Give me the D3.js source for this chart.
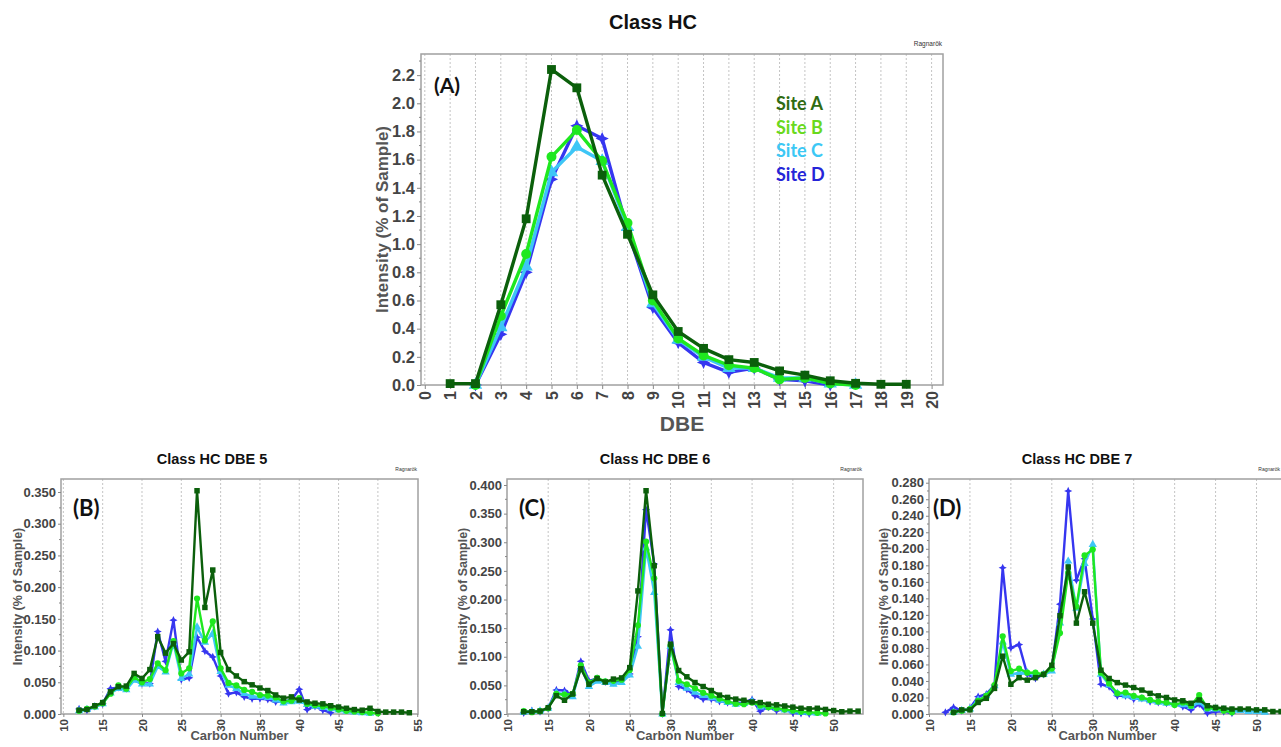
<!DOCTYPE html>
<html>
<head>
<meta charset="utf-8">
<script src="https://cdn.jsdelivr.net/npm/d3@7"></script>
<style>
	body { margin: 0; background: #fff; }
	svg text { font-family: "Liberation Sans", Arial, sans-serif; font-weight: bold; }
	.tag { font-family: Lato, "Open Sans", sans-serif !important; }
</style>
</head>
<body>
<svg id="fig" width="1281" height="747"></svg>
<script>
// panel A : intensity per DBE
const dbe = [1, 2, 3, 4, 5, 6, 7, 8, 9, 10, 11, 12, 13, 14, 15, 16, 17, 18, 19];
const dbeSiteA = [0.01, 0.01, 0.57, 1.18, 2.24, 2.11, 1.49, 1.07, 0.64, 0.38, 0.26, 0.18, 0.16, 0.10, 0.07, 0.03, 0.012, 0.005, 0.005];
const dbeSiteB = [null, 0.0, 0.49, 0.93, 1.62, 1.81, 1.59, 1.15, 0.60, 0.33, 0.21, 0.14, 0.12, 0.04, 0.05, 0.01, 0.0];
const dbeSiteC = [null, 0.0, 0.41, 0.84, 1.51, 1.69, 1.59, 1.12, 0.58, 0.32, 0.20, 0.12, 0.12, 0.05, 0.05, 0.01, 0.0];
const dbeSiteD = [null, 0.0, 0.36, 0.80, 1.46, 1.84, 1.75, 1.10, 0.55, 0.30, 0.16, 0.09, 0.12, 0.04, 0.03, 0.0];
const dbeTicks = [0, 1, 2, 3, 4, 5, 6, 7, 8, 9, 10, 11, 12, 13, 14, 15, 16, 17, 18, 19, 20];
const dbeYTicks = [0, 0.2, 0.4, 0.6, 0.8, 1.0, 1.2, 1.4, 1.6, 1.8, 2.0, 2.2];

// panel B : DBE 5 per carbon number
const carbonDbe5 = [12, 13, 14, 15, 16, 17, 18, 19, 20, 21, 22, 23, 24, 25, 26, 27, 28, 29, 30, 31, 32, 33, 34, 35, 36, 37, 38, 39, 40, 41, 42, 43, 44, 45, 46, 47, 48, 49, 50, 51, 52, 53, 54];
const dbe5SiteA = [0.006, 0.007, 0.013, 0.018, 0.035, 0.043, 0.044, 0.064, 0.056, 0.070, 0.122, 0.096, 0.111, 0.085, 0.098, 0.352, 0.168, 0.227, 0.097, 0.070, 0.060, 0.051, 0.046, 0.041, 0.037, 0.030, 0.025, 0.027, 0.022, 0.019, 0.017, 0.016, 0.013, 0.011, 0.009, 0.007, 0.006, 0.009, 0.004, 0.003, 0.003, 0.003, 0.002];
const dbe5SiteB = [0.005, 0.008, 0.012, 0.017, 0.032, 0.045, 0.040, 0.058, 0.050, 0.055, 0.080, 0.069, 0.115, 0.064, 0.072, 0.182, 0.116, 0.146, 0.072, 0.049, 0.045, 0.038, 0.035, 0.030, 0.029, 0.026, 0.020, 0.021, 0.025, 0.016, 0.014, 0.012, 0.010, 0.007, 0.005, 0.004, 0.003, 0.002, 0.001];
const dbe5SiteC = [0.005, 0.007, 0.011, 0.016, 0.033, 0.040, 0.038, 0.053, 0.047, 0.047, 0.075, 0.066, 0.112, 0.056, 0.063, 0.137, 0.113, 0.127, 0.067, 0.045, 0.040, 0.032, 0.028, 0.027, 0.026, 0.022, 0.017, 0.019, 0.020, 0.015, 0.012, 0.010, 0.008, 0.006, 0.004, 0.003, 0.002, 0.001];
const dbe5SiteD = [0.008, 0.006, 0.012, 0.016, 0.040, 0.042, 0.040, 0.057, 0.048, 0.048, 0.130, 0.083, 0.148, 0.054, 0.057, 0.121, 0.099, 0.090, 0.060, 0.032, 0.034, 0.027, 0.024, 0.024, 0.023, 0.019, 0.020, 0.022, 0.039, 0.007, 0.012, 0.006, 0.002];

// panel C : DBE 6 per carbon number
const carbonDbe6 = [12, 13, 14, 15, 16, 17, 18, 19, 20, 21, 22, 23, 24, 25, 26, 27, 28, 29, 30, 31, 32, 33, 34, 35, 36, 37, 38, 39, 40, 41, 42, 43, 44, 45, 46, 47, 48, 49, 50, 51, 52, 53];
const dbe6SiteA = [0.004, 0.004, 0.005, 0.011, 0.032, 0.024, 0.035, 0.079, 0.052, 0.062, 0.056, 0.061, 0.063, 0.081, 0.215, 0.390, 0.259, 0.001, 0.122, 0.076, 0.065, 0.055, 0.048, 0.041, 0.033, 0.029, 0.026, 0.024, 0.021, 0.020, 0.017, 0.016, 0.014, 0.012, 0.010, 0.009, 0.010, 0.008, 0.006, 0.004, 0.005, 0.005];
const dbe6SiteB = [0.005, 0.003, 0.005, 0.010, 0.035, 0.034, 0.035, 0.085, 0.055, 0.063, 0.057, 0.058, 0.060, 0.077, 0.155, 0.301, 0.237, 0.000, 0.120, 0.058, 0.052, 0.045, 0.037, 0.032, 0.027, 0.022, 0.018, 0.017, 0.020, 0.015, 0.012, 0.010, 0.008, 0.006, 0.004, 0.003, 0.002, 0.001];
const dbe6SiteC = [0.003, 0.004, 0.005, 0.010, 0.037, 0.035, 0.030, 0.082, 0.048, 0.057, 0.055, 0.052, 0.055, 0.068, 0.118, 0.290, 0.212, 0.000, 0.118, 0.055, 0.045, 0.038, 0.032, 0.028, 0.024, 0.020, 0.017, 0.018, 0.022, 0.012, 0.012, 0.010, 0.007, 0.005, 0.003, 0.002, 0.001];
const dbe6SiteD = [0.002, 0.006, 0.004, 0.010, 0.042, 0.041, 0.033, 0.092, 0.058, 0.062, 0.056, 0.055, 0.058, 0.070, 0.135, 0.357, 0.262, 0.000, 0.147, 0.048, 0.043, 0.032, 0.026, 0.026, 0.022, 0.020, 0.019, 0.020, 0.025, 0.005, 0.012, 0.006, 0.008, 0.002, 0.001, 0.000];

// panel D : DBE 7 per carbon number
const carbonDbe7 = [12, 13, 14, 15, 16, 17, 18, 19, 20, 21, 22, 23, 24, 25, 26, 27, 28, 29, 30, 31, 32, 33, 34, 35, 36, 37, 38, 39, 40, 41, 42, 43, 44, 45, 46, 47, 48, 49, 50, 51, 52, 53];
const dbe7SiteA = [null, 0.002, 0.005, 0.005, 0.014, 0.019, 0.031, 0.070, 0.036, 0.044, 0.041, 0.044, 0.048, 0.059, 0.119, 0.178, 0.110, 0.148, 0.110, 0.053, 0.043, 0.038, 0.035, 0.032, 0.029, 0.025, 0.022, 0.020, 0.017, 0.016, 0.013, 0.017, 0.010, 0.008, 0.007, 0.006, 0.006, 0.006, 0.005, 0.005, 0.003, 0.003];
const dbe7SiteB = [null, 0.002, 0.004, 0.006, 0.016, 0.022, 0.035, 0.094, 0.052, 0.055, 0.050, 0.050, 0.048, 0.055, 0.098, 0.171, 0.130, 0.192, 0.199, 0.050, 0.037, 0.025, 0.026, 0.022, 0.020, 0.017, 0.015, 0.014, 0.011, 0.014, 0.010, 0.023, 0.007, 0.007, 0.004, 0.002];
const dbe7SiteC = [null, 0.002, 0.004, 0.006, 0.017, 0.022, 0.034, 0.087, 0.048, 0.050, 0.050, 0.048, 0.048, 0.052, 0.110, 0.185, 0.128, 0.182, 0.205, 0.048, 0.035, 0.025, 0.022, 0.020, 0.018, 0.016, 0.014, 0.013, 0.012, 0.011, 0.009, 0.014, 0.006, 0.006, 0.005, 0.004, 0.004, 0.003, 0.003, 0.002];
const dbe7SiteD = [0.002, 0.008, 0.004, 0.007, 0.021, 0.024, 0.035, 0.177, 0.080, 0.084, 0.048, 0.043, 0.048, 0.055, 0.133, 0.270, 0.162, 0.188, 0.115, 0.036, 0.033, 0.022, 0.022, 0.018, 0.019, 0.015, 0.014, 0.013, 0.012, 0.009, 0.005, 0.012, 0.001, 0.003, 0.003, 0.001];

const carbonTicks = [10, 15, 20, 25, 30, 35, 40, 45, 50, 55];
const yTicks05 = [0, 0.05, 0.10, 0.15, 0.20, 0.25, 0.30, 0.35];
const yTicks06 = [0, 0.05, 0.10, 0.15, 0.20, 0.25, 0.30, 0.35, 0.40];
const yTicks07 = [0, 0.02, 0.04, 0.06, 0.08, 0.10, 0.12, 0.14, 0.16, 0.18, 0.20, 0.22, 0.24, 0.26, 0.28];

const siteNames = ["Site A", "Site B", "Site C", "Site D"];
const lineColors = ["#0b5f0b", "#1fe81f", "#3ec6f6", "#3636f0"];
const legendColors = ["#2f6b12", "#69d91c", "#3cc8f5", "#2525d8"];

let svg = d3.select('#fig');
svg.append('rect').attr('width', 1281).attr('height', 747).attr('fill', '#fff');

// 4 point star for site D
const star4 = {
	draw(ctx, size) {
		let r = Math.sqrt(size) * 0.75, k = r * 0.32;
		ctx.moveTo(0, -r); ctx.lineTo(k, -k); ctx.lineTo(r, 0); ctx.lineTo(k, k);
		ctx.lineTo(0, r); ctx.lineTo(-k, k); ctx.lineTo(-r, 0); ctx.lineTo(-k, -k);
		ctx.closePath();
	}
};
const symbols = [d3.symbolSquare, d3.symbolCircle, d3.symbolTriangle, star4];

function drawPanel(cfg) {
	let g = svg.append('g');

	let x = d3.scaleLinear().domain(cfg.xDomain).range([cfg.left, cfg.right]);
	let y = d3.scaleLinear().domain(cfg.yDomain).range([cfg.bottom, cfg.top]);
	let xTicks = cfg.xTicks.filter(t => t >= cfg.xDomain[0] && t <= cfg.xDomain[1]);

	g.selectAll('.grid')
		.data(xTicks.filter(t => x(t) > cfg.left + 2 && x(t) < cfg.right - 2))
		.enter()
		.append('line')
		.attr('x1', d => x(d)).attr('x2', d => x(d))
		.attr('y1', cfg.top).attr('y2', cfg.bottom)
		.attr('stroke', '#c4c4c4')
		.attr('stroke-width', 1)
		.attr('stroke-dasharray', '2,2');

	g.append('rect')
		.attr('x', cfg.left).attr('y', cfg.top)
		.attr('width', cfg.right - cfg.left).attr('height', cfg.bottom - cfg.top)
		.attr('fill', 'none')
		.attr('stroke', '#a0a0a0')
		.attr('stroke-width', 1.5);

	// minor ticks
	let yStep = cfg.yTicks[1] - cfg.yTicks[0];
	let minorY = [];
	cfg.yTicks.forEach(t => minorY.push(t + yStep / 2));
	g.selectAll('.minorY')
		.data(minorY.filter(t => t < cfg.yDomain[1]))
		.enter()
		.append('line')
		.attr('x1', cfg.left - 2).attr('x2', cfg.left)
		.attr('y1', d => y(d)).attr('y2', d => y(d))
		.attr('stroke', '#888');

	let yAxis = d3.axisLeft(y)
		.tickValues(cfg.yTicks)
		.tickFormat(d3.format(cfg.yFormat))
		.tickSize(cfg.tickLen)
		.tickPadding(2);

	let gy = g.append('g')
		.attr('transform', 'translate(' + cfg.left + ',0)')
		.call(yAxis);
	gy.select('.domain').remove();
	gy.selectAll('line').attr('stroke', '#888');
	gy.selectAll('text')
		.attr('fill', '#444')
		.style('font-size', cfg.yTickFont + 'px');

	let xAxis = d3.axisBottom(x)
		.tickValues(xTicks)
		.tickSize(cfg.tickLen);

	let gx = g.append('g')
		.attr('transform', 'translate(0,' + cfg.bottom + ')')
		.call(xAxis);
	gx.select('.domain').remove();
	gx.selectAll('line').attr('stroke', '#888');
	gx.selectAll('text')
		.attr('fill', '#444')
		.style('font-size', cfg.xTickFont + 'px')
		.attr('transform', 'rotate(-90)')
		.attr('text-anchor', 'end')
		.attr('x', -(cfg.tickLen + 2))
		.attr('y', 0)
		.attr('dy', '0.36em');

	// series, site D underneath, site A on top
	for (let s = 3; s >= 0; s--) {
		let pts = cfg.xs.map((c, i) => ({ c: c, v: cfg.series[s][i] }))
			.filter(d => d.v != null && d.v !== undefined);

		let line = d3.line()
			.x(d => x(d.c))
			.y(d => y(d.v));

		g.append('path')
			.datum(pts)
			.attr('d', line)
			.attr('fill', 'none')
			.attr('stroke', lineColors[s])
			.attr('stroke-width', cfg.lineW)
			.attr('stroke-linejoin', 'round');

		g.selectAll('.mk' + s)
			.data(pts)
			.enter()
			.append('path')
			.attr('transform', d => 'translate(' + x(d.c) + ',' + y(d.v) + ')')
			.attr('d', d3.symbol().type(symbols[s]).size(cfg.markSize))
			.attr('fill', lineColors[s]);
	}

	g.append('text')
		.attr('x', cfg.titleX).attr('y', cfg.titleY)
		.attr('text-anchor', 'middle')
		.attr('fill', '#111')
		.style('font-size', cfg.titleFont + 'px')
		.text(cfg.title);

	g.append('text')
		.attr('x', Math.min(cfg.right - 1, 1280)).attr('y', cfg.top - 8)
		.attr('text-anchor', 'end')
		.attr('fill', '#333')
		.style('font-size', cfg.ragFont + 'px')
		.style('font-weight', 'normal')
		.text('Ragnarök');

	g.append('text')
		.attr('transform', 'translate(' + cfg.yTitleX + ',' + (cfg.top + cfg.bottom) / 2 + ') rotate(-90)')
		.attr('text-anchor', 'middle')
		.attr('fill', '#555')
		.style('font-size', cfg.axisFont + 'px')
		.text('Intensity (% of Sample)');

	g.append('text')
		.attr('x', (cfg.left + cfg.right) / 2).attr('y', cfg.xTitleY)
		.attr('text-anchor', 'middle')
		.attr('fill', '#555')
		.style('font-size', cfg.xTitleFont + 'px')
		.text(cfg.xTitle);

	g.append('text')
		.attr('class', 'tag')
		.attr('x', cfg.left + cfg.tagDx).attr('y', cfg.tagY)
		.attr('fill', '#111')
		.style('font-size', cfg.tagFont + 'px')
		.text(cfg.tag);

	return g;
}

let topPanel = drawPanel({
	left: 421, right: 943, top: 54, bottom: 385,
	xDomain: [-0.15, 20.45], yDomain: [0, 2.35],
	xs: dbe, series: [dbeSiteA, dbeSiteB, dbeSiteC, dbeSiteD],
	xTicks: dbeTicks, yTicks: dbeYTicks, yFormat: '.1f',
	tickLen: 4, yTickFont: 16.5, xTickFont: 16, lineW: 3.4, markSize: 78,
	title: 'Class HC', titleX: 653, titleY: 29, titleFont: 20, ragFont: 6.5,
	yTitleX: 388, axisFont: 17, xTitle: 'DBE', xTitleY: 431, xTitleFont: 21,
	tag: '(A)', tagDx: 13, tagY: 93, tagFont: 21
});

topPanel.selectAll('.legend')
	.data(siteNames)
	.enter()
	.append('text')
	.attr('class', 'tag')
	.attr('x', 776)
	.attr('y', (d, i) => 110 + i * 23.7)
	.attr('fill', (d, i) => legendColors[i])
	.style('font-size', '18px')
	.text(d => d);

let bottomBase = {
	top: 479, bottom: 714,
	tickLen: 3, yTickFont: 13, xTickFont: 11.5, lineW: 2.4, markSize: 30,
	titleY: 464, titleFont: 14.5, ragFont: 5,
	axisFont: 12.5, xTitle: 'Carbon Number', xTitleY: 740, xTitleFont: 13,
	tagDx: 12, tagY: 516, tagFont: 22, yFormat: '.3f', xTicks: carbonTicks
};

drawPanel(Object.assign({}, bottomBase, {
	left: 61, right: 418, xDomain: [9.7, 55.1], yDomain: [0, 0.3705],
	xs: carbonDbe5, series: [dbe5SiteA, dbe5SiteB, dbe5SiteC, dbe5SiteD],
	yTicks: yTicks05, title: 'Class HC DBE 5', titleX: 212, yTitleX: 22, tag: '(B)'
}));

drawPanel(Object.assign({}, bottomBase, {
	left: 507, right: 863, xDomain: [9.95, 53.6], yDomain: [0, 0.4105],
	xs: carbonDbe6, series: [dbe6SiteA, dbe6SiteB, dbe6SiteC, dbe6SiteD],
	yTicks: yTicks06, title: 'Class HC DBE 6', titleX: 655, yTitleX: 467, tag: '(C)'
}));

drawPanel(Object.assign({}, bottomBase, {
	left: 929, right: 1286, xDomain: [10, 53.6], yDomain: [0, 0.2845],
	xs: carbonDbe7, series: [dbe7SiteA, dbe7SiteB, dbe7SiteC, dbe7SiteD],
	yTicks: yTicks07, title: 'Class HC DBE 7', titleX: 1077, yTitleX: 888, tag: '(D)', tagDx: 4
}));
</script>
</body>
</html>
